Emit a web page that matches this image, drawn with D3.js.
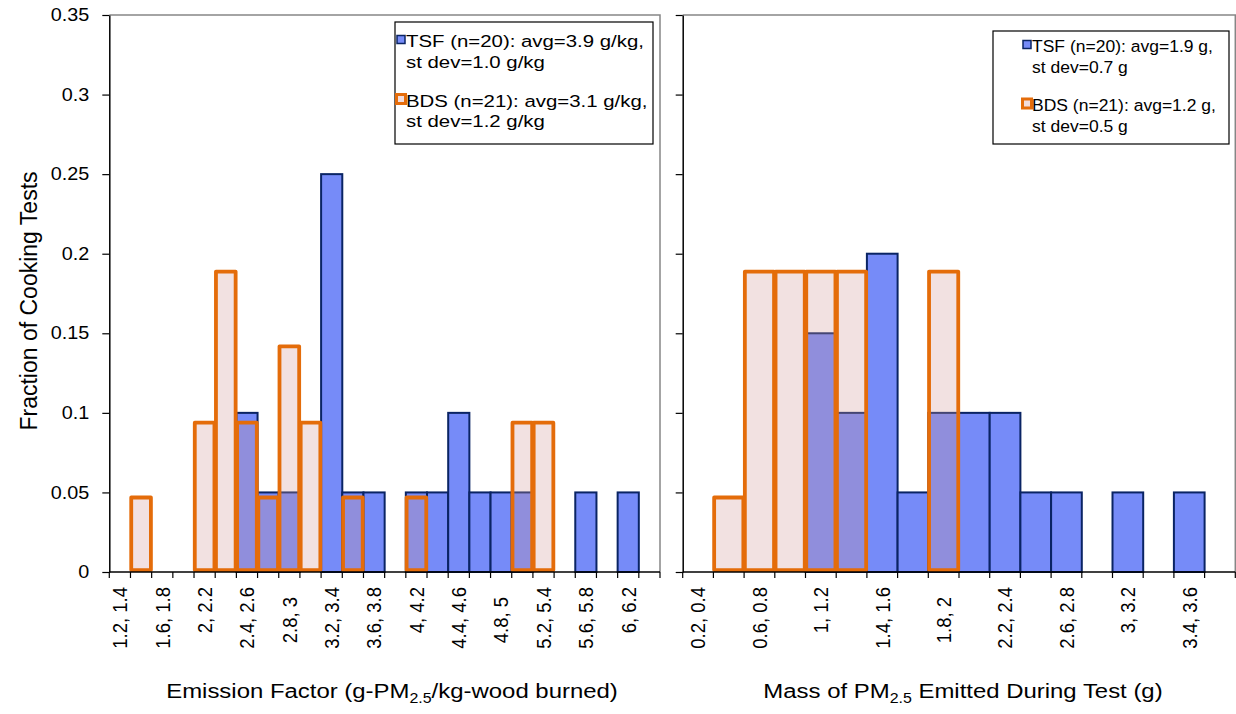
<!DOCTYPE html>
<html><head><meta charset="utf-8">
<script src="https://cdn.jsdelivr.net/npm/d3@7"></script>
<style>
body{margin:0;background:#fff}
text{font-family:"Liberation Sans",Arial,sans-serif;fill:#000}
</style>
</head><body>
<svg id="c" width="1236" height="714"></svg>
<script>
// ---------- data ----------
const efCategories = ["1.2, 1.4","1.4, 1.6","1.6, 1.8","1.8, 2","2, 2.2","2.2, 2.4","2.4, 2.6","2.6, 2.8","2.8, 3","3, 3.2","3.2, 3.4","3.4, 3.6","3.6, 3.8","3.8, 4","4, 4.2","4.2, 4.4","4.4, 4.6","4.6, 4.8","4.8, 5","5, 5.2","5.2, 5.4","5.4, 5.6","5.6, 5.8","5.8, 6","6, 6.2","6.2, 6.4"];
const efTSF = [0,0,0,0,0,0,0.1,0.05,0.05,0,0.25,0.05,0.05,0,0.05,0.05,0.1,0.05,0.05,0.05,0,0,0.05,0,0.05,0];
const efBDS = [0,0.048,0,0,0.095,0.19,0.095,0.048,0.143,0.095,0,0.048,0,0,0.048,0,0,0,0,0.095,0.095,0,0,0,0,0];

const massCategories = ["0.2, 0.4","0.4, 0.6","0.6, 0.8","0.8, 1","1, 1.2","1.2, 1.4","1.4, 1.6","1.6, 1.8","1.8, 2","2, 2.2","2.2, 2.4","2.4, 2.6","2.6, 2.8","2.8, 3","3, 3.2","3.2, 3.4","3.4, 3.6","3.6, 3.8"];
const massTSF = [0,0,0,0,0.15,0.1,0.2,0.05,0.1,0.1,0.1,0.05,0.05,0,0.05,0,0.05,0];
const massBDS = [0,0.048,0.19,0.19,0.19,0.19,0,0,0.19,0,0,0,0,0,0,0,0,0];

const yTicks = [0,0.05,0.1,0.15,0.2,0.25,0.3,0.35];
const yTitle = "Fraction of Cooking Tests";
const efLegend = [["TSF (n=20): avg=3.9 g/kg,","st dev=1.0 g/kg"],["BDS (n=21): avg=3.1 g/kg,","st dev=1.2 g/kg"]];
const massLegend = [["TSF (n=20): avg=1.9 g,","st dev=0.7 g"],["BDS (n=21): avg=1.2 g,","st dev=0.5 g"]];

// ---------- styles ----------
const C = {
  tsfFill:"#768BF8", tsfStroke:"#0A2464",
  bdsFill:"rgba(210,150,150,0.29)", bdsStroke:"#E46C0A",
  border:"#868686"
};
const SX_TICK = 1.1, SX_TITLE = 1.14;

const svg = d3.select("#c");
const yTop = 15, yBase = 572;

function sText(g, x, y, size, sx, anchor, rot){
  return g.append("text")
    .attr("transform", `translate(${x},${y}) scale(${sx},1)` + (rot ? ` rotate(${rot})` : ""))
    .attr("font-size", size).attr("text-anchor", anchor);
}

function panel(cfg){
  const g = svg.append("g");
  const x = d3.scaleBand().domain(cfg.categories).range([cfg.x0, cfg.x1]).padding(0);
  const y = d3.scaleLinear().domain([0,0.35]).range([yBase, yTop]);
  const bw = x.bandwidth();

  // border (top + right)
  g.append("path").attr("d", `M${cfg.x0},${yTop}H${cfg.x1}V${yBase}`)
    .attr("fill","none").attr("stroke",C.border).attr("stroke-width",1.5);

  // TSF bars
  g.append("g").selectAll("rect").data(cfg.categories.map((c,i)=>({c, v:cfg.tsf[i]})).filter(d=>d.v>0))
    .join("rect")
    .attr("x", d=>x(d.c)).attr("width", bw)
    .attr("y", d=>y(d.v)).attr("height", d=>yBase - y(d.v))
    .attr("fill", C.tsfFill).attr("stroke", C.tsfStroke).attr("stroke-width", 2);

  // BDS bars
  const sw = 3.8, ins = 0.75;
  g.append("g").selectAll("rect").data(cfg.categories.map((c,i)=>({c, v:cfg.bds[i]})).filter(d=>d.v>0))
    .join("rect")
    .attr("x", d=>x(d.c)+ins).attr("width", bw-2*ins)
    .attr("y", d=>y(d.v)+sw/2).attr("height", d=>yBase - y(d.v) - sw)
    .attr("fill", C.bdsFill).attr("stroke", C.bdsStroke).attr("stroke-width", sw)
    .attr("stroke-linejoin","round");

  // y axis
  const ya = d3.axisLeft(y).tickValues(yTicks).tickSize(7).tickSizeOuter(0).tickFormat("");
  const yg = g.append("g").attr("transform", `translate(${cfg.x0},0)`).call(ya);
  yg.select(".domain").attr("stroke","#000").attr("stroke-width",1.5);
  yg.selectAll(".tick line").attr("stroke","#000").attr("stroke-width",1.2);
  yg.selectAll(".tick text").remove();
  if (cfg.yLabels){
    yTicks.forEach(t=>{
      sText(g, cfg.x0-20, y(t), 18, SX_TICK, "end").attr("dominant-baseline","central").text(String(+t.toFixed(2)));
    });
  }

  // x axis baseline + boundary ticks
  g.append("line").attr("x1",cfg.x0).attr("x2",cfg.x1).attr("y1",yBase).attr("y2",yBase)
    .attr("stroke","#000").attr("stroke-width",1.5);
  const bounds = cfg.categories.map(c=>x(c)).concat([x(cfg.categories[cfg.categories.length-1])+bw]);
  g.append("g").selectAll("line").data(bounds).join("line")
    .attr("x1",d=>d).attr("x2",d=>d).attr("y1",yBase).attr("y2",yBase+6)
    .attr("stroke","#000").attr("stroke-width",1.2);

  // x tick labels (every other category)
  cfg.categories.forEach((c,i)=>{
    if (i % 2) return;
    const intEnd = !c.split(", ")[1].includes(".");
    sText(g, x(c)+bw/2, yBase+15 + (intEnd?10:0), 18.5, SX_TICK, "end", -90)
      .attr("dominant-baseline","central").text(c);
  });

  // x title
  const t = sText(g, cfg.titleX, 698, 21, SX_TITLE, "middle");
  t.append("tspan").text(cfg.title[0]);
  t.append("tspan").attr("font-size",14).attr("dy",5).text("2.5");
  t.append("tspan").attr("dy",-5).text(cfg.title[1]);

  // legend
  const L = cfg.legend;
  g.append("rect").attr("x",L.x).attr("y",L.y).attr("width",L.w).attr("height",L.h)
    .attr("fill","#fff").attr("stroke","#000").attr("stroke-width",1.2);
  cfg.legendText.forEach((lines,k)=>{
    const base = L.base[k];
    if (k===0){
      g.append("rect").attr("x",L.mx).attr("y",base-11.5).attr("width",8).attr("height",8)
        .attr("fill",C.tsfFill).attr("stroke",C.tsfStroke).attr("stroke-width",1.5);
    } else {
      g.append("rect").attr("x",L.mx-0.5).attr("y",base-12).attr("width",9).attr("height",9)
        .attr("fill","#F2DCDB").attr("stroke",C.bdsStroke).attr("stroke-width",3);
    }
    lines.forEach((ln,j)=>{
      sText(g, L.tx, base + j*20.5, 17, L.sx, "start").text(ln);
    });
  });
}

panel({categories:efCategories, tsf:efTSF, bds:efBDS, x0:109.3, x1:660, titleX:392, yLabels:true,
  title:["Emission Factor (g-PM","/kg-wood burned)"],
  legend:{x:395,y:22,w:258,h:122,mx:397,tx:406,sx:1.2,base:[47,106.5]}, legendText:efLegend});
panel({categories:massCategories, tsf:massTSF, bds:massBDS, x0:682.7, x1:1235.3, titleX:963, yLabels:false,
  title:["Mass of PM"," Emitted During Test (g)"],
  legend:{x:993,y:31,w:236,h:113,mx:1023,tx:1032,sx:1.03,base:[52,111]}, legendText:massLegend});

// y title
sText(svg, 29, 301, 23, 1.0, "middle", -90).attr("dominant-baseline","central").text(yTitle);
</script>
</body></html>
